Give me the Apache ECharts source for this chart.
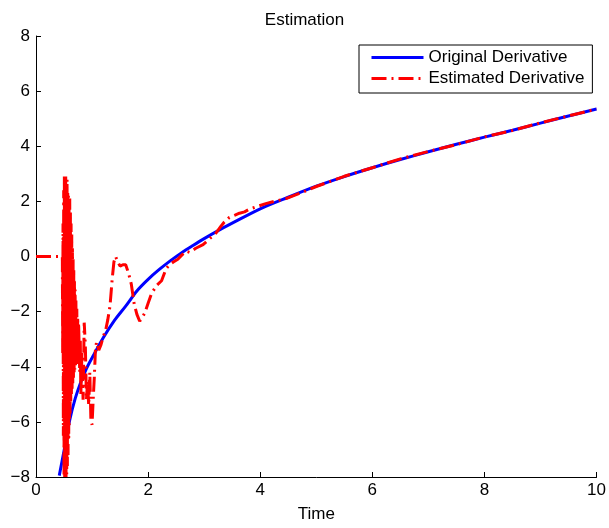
<!DOCTYPE html>
<html>
<head>
<meta charset="utf-8">
<script src="https://cdn.jsdelivr.net/npm/echarts@6/dist/echarts.min.js"></script>
<style>html,body{margin:0;padding:0;background:#fff}#c{width:609px;height:528px}</style>
</head>
<body>
<div id="c"></div>
<script>
// ---- data ----
const xTicks = [0, 2, 4, 6, 8, 10];
const yTicks = [-8, -6, -4, -2, 0, 2, 4, 6, 8];

const originalT = [0.415, 0.5, 0.6, 0.7, 0.8, 0.9, 1.0, 1.2, 1.4, 1.6, 1.8, 2.0, 2.2, 2.4, 2.6, 2.8, 3.0, 3.25, 3.5, 4.0, 4.5, 5.0, 5.5, 6.0, 6.5, 7.0, 7.5, 8.0, 8.5, 9.0, 9.5, 10.0];
const originalY = [-7.95, -7.05, -5.95, -5.15, -4.55, -4.07, -3.68, -2.95, -2.32, -1.8, -1.25, -0.83, -0.47, -0.15, 0.14, 0.4, 0.65, 0.94, 1.21, 1.73, 2.15, 2.55, 2.9, 3.22, 3.52, 3.8, 4.07, 4.33, 4.58, 4.84, 5.1, 5.35];

const estimatedT = [0, 0.1, 0.2, 0.3, 0.4, 0.47,
  0.476, 0.482, 0.488, 0.494, 0.500, 0.506, 0.512, 0.518, 0.524, 0.530, 0.536, 0.542, 0.548, 0.554, 0.560, 0.566, 0.572, 0.578, 0.584, 0.590, 0.596, 0.602, 0.608, 0.614, 0.620, 0.626, 0.632, 0.638, 0.644, 0.650, 0.656, 0.662, 0.668, 0.674, 0.680, 0.686, 0.692, 0.698, 0.704, 0.712, 0.720, 0.728, 0.736, 0.744, 0.752, 0.760,
  0.78, 0.79, 0.80, 0.82, 0.84, 0.86, 0.88, 0.90, 0.92, 0.94, 0.96, 0.98, 1.0,
  1.02, 1.04, 1.06, 1.08, 1.12, 1.16, 1.2, 1.24, 1.28, 1.32, 1.36, 1.39, 1.42, 1.46, 1.5, 1.55, 1.6, 1.65, 1.7, 1.75, 1.8, 1.85, 1.9, 1.94, 2.0, 2.06, 2.15, 2.24, 2.32, 2.38, 2.45, 2.53, 2.6, 2.68, 2.74, 2.85, 2.98, 3.1, 3.21, 3.3, 3.36, 3.45, 3.55, 3.63, 3.72, 3.81, 3.95, 4.1, 4.25, 4.46, 4.75, 5.0, 5.5, 6.0, 6.5, 7.0, 7.5, 8.0, 8.5, 9.0, 9.5, 10.0];
const estimatedY = [0, 0, 0, 0, 0, 0,
  -3.5, 1.2, -6.5, 2.4, -8, 2.9, -8, 2.7, -8, 2.9, -8, 2.6, -7.9, 2.8, -7.6, 2.3, -7.2, 2.2, -6.6, 2.0, -6.1, 2.1, -5.7, 1.6, -5.3, 1.2, -5.0, 0.8, -4.8, 0.3, -4.6, -0.1, -4.4, -0.5, -4.2, -0.9, -4.1, -1.2, -4.0, -1.6, -3.8, -1.9, -3.7, -2.2, -3.9, -2.4,
  -4.2, -3.0, -5.0, -3.5, -5.2, -2.4, -3.2, -5.2, -4.5, -5.4, -4.2, -6.0, -6.1,
  -5.2, -4.4, -3.4, -3.1, -3.4, -3.2, -2.9, -2.7, -2.3, -1.8, -0.8, -0.2, 0.0, -0.2, -0.35, -0.3, -0.3, -0.6, -1.0, -1.7, -2.1, -2.35, -2.2, -2.05, -1.7, -1.35, -1.05, -0.88, -0.45, -0.3, -0.2, -0.1, 0.05, 0.19, 0.15, 0.3, 0.43, 0.65, 0.85, 1.1, 1.25, 1.42, 1.5, 1.57, 1.62, 1.72, 1.82, 1.92, 2.0, 2.1, 2.33, 2.54, 2.91, 3.22, 3.54, 3.81, 4.06, 4.34, 4.57, 4.85, 5.1, 5.35];

const seriesNames = ['Original Derivative', 'Estimated Derivative'];
const titleText = 'Estimation';
const xLabel = 'Time';

// ---- chart ----
const chart = echarts.init(document.getElementById('c'));
const font = 'Liberation Sans, Arial, Helvetica, sans-serif';
const fmt = v => (v < 0 ? '\u2212' + Math.abs(v) : String(v));

chart.setOption({
  animation: false,
  backgroundColor: '#fff',
  title: {
    text: titleText, left: 'center', top: 7,
    textStyle: { fontFamily: font, fontSize: 17, fontWeight: 'normal', color: '#000' }
  },
  legend: {
    data: seriesNames,
    orient: 'vertical',
    left: 359, top: 45,
    backgroundColor: '#fff',
    borderColor: '#000', borderWidth: 1, borderRadius: 0,
    padding: [4, 8, 6, 11],
    itemGap: 4,
    itemWidth: 52, itemHeight: 14,
    itemStyle: { opacity: 0 },
    lineStyle: { width: 3 },
    textStyle: { fontFamily: font, fontSize: 17, color: '#000' }
  },
  grid: { left: 36, right: 11, top: 36, bottom: 45, containLabel: false },
  xAxis: {
    type: 'value', min: xTicks[0], max: xTicks[xTicks.length - 1], interval: 2,
    name: xLabel, nameLocation: 'middle', nameGap: 29,
    nameTextStyle: { fontFamily: font, fontSize: 17, color: '#000' },
    axisLine: { show: true, onZero: false, lineStyle: { color: '#000', width: 1 } },
    axisTick: { show: true, inside: true, length: 5, lineStyle: { color: '#000' } },
    axisLabel: { fontFamily: font, fontSize: 17, color: '#000', margin: 5, formatter: fmt },
    splitLine: { show: false }
  },
  yAxis: {
    type: 'value', min: yTicks[0], max: yTicks[yTicks.length - 1], interval: 2,
    axisLine: { show: true, onZero: false, lineStyle: { color: '#000', width: 1 } },
    axisTick: { show: true, inside: true, length: 5, lineStyle: { color: '#000' } },
    axisLabel: { fontFamily: font, fontSize: 17, color: '#000', margin: 6, formatter: fmt },
    splitLine: { show: false }
  },
  series: [
    {
      name: seriesNames[0], type: 'line', showSymbol: false, symbol: 'none',
      smooth: 0.3, clip: true,
      data: originalT.map((t, i) => [t, originalY[i]]),
      lineStyle: { color: '#0000ff', width: 3 },
      itemStyle: { color: '#0000ff' }, z: 2
    },
    {
      name: seriesNames[1], type: 'line', showSymbol: false, symbol: 'none',
      smooth: false, clip: true,
      data: estimatedT.map((t, i) => [t, estimatedY[i]]),
      lineStyle: { color: '#ff0000', width: 3, type: [15, 5, 2, 5] },
      itemStyle: { color: '#ff0000' }, z: 3
    }
  ]
});
</script>
</body>
</html>
